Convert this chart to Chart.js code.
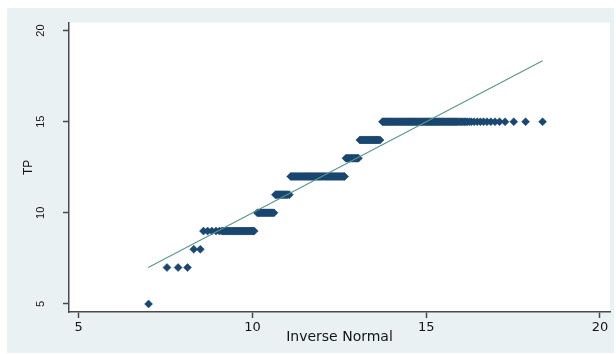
<!DOCTYPE html>
<html>
<head>
<meta charset="utf-8">
<script src="https://cdn.jsdelivr.net/npm/chart.js@4.4.0/dist/chart.umd.min.js"></script>
<style>
  html, body { margin: 0; padding: 0; background: #fff; }
</style>
</head>
<body>
<canvas id="qnorm-chart" width="616" height="354"></canvas>
<script>
// inverse normal quantiles (x), one list per TP value
const inv5 = [7.01];
const inv7 = [7.54, 7.86, 8.13];
const inv8 = [8.31, 8.50];
const inv9 = [8.59, 8.71, 8.83, 8.95, 9.05, 9.12, 9.15, 9.18, 9.21, 9.24, 9.27, 9.30, 9.33, 9.36,
  9.39, 9.42, 9.45, 9.48, 9.51, 9.54, 9.57, 9.60, 9.63, 9.66, 9.69, 9.72, 9.75, 9.78, 9.81, 9.84,
  9.87, 9.90, 9.93, 9.96, 9.99, 10.02, 10.05];
const inv10 = [10.14, 10.17, 10.20, 10.23, 10.26, 10.29, 10.32, 10.35, 10.38, 10.41, 10.44, 10.47,
  10.50, 10.53, 10.56, 10.59, 10.62];
const inv11 = [10.66, 10.69, 10.72, 10.75, 10.78, 10.81, 10.84, 10.87, 10.90, 10.93, 10.96, 10.99,
  11.02, 11.06];
const inv12 = [11.10, 11.13, 11.16, 11.19, 11.22, 11.25, 11.28, 11.31, 11.34, 11.37, 11.40, 11.43,
  11.46, 11.49, 11.52, 11.55, 11.58, 11.61, 11.64, 11.67, 11.70, 11.73, 11.76, 11.79, 11.82, 11.85,
  11.88, 11.91, 11.94, 11.97, 12.00, 12.03, 12.06, 12.09, 12.12, 12.15, 12.18, 12.21, 12.24, 12.27,
  12.30, 12.33, 12.36, 12.39, 12.42, 12.45, 12.48, 12.51, 12.54, 12.57, 12.60, 12.63, 12.65];
const inv13 = [12.69, 12.72, 12.75, 12.78, 12.81, 12.84, 12.87, 12.90, 12.93, 12.96, 12.99, 13.02, 13.05];
const inv14 = [13.09, 13.12, 13.15, 13.18, 13.21, 13.24, 13.27, 13.30, 13.33, 13.36, 13.39, 13.42,
  13.45, 13.48, 13.51, 13.54, 13.57, 13.60, 13.63, 13.67];
const inv15 = [13.74, 13.77, 13.80, 13.83, 13.86, 13.89, 13.92, 13.95, 13.98, 14.01, 14.04, 14.07,
  14.10, 14.13, 14.16, 14.19, 14.22, 14.25, 14.28, 14.31, 14.34, 14.37, 14.40, 14.43, 14.46, 14.49,
  14.52, 14.55, 14.58, 14.61, 14.64, 14.67, 14.70, 14.73, 14.76, 14.79, 14.82, 14.85, 14.88, 14.91,
  14.94, 14.97, 15.00, 15.03, 15.06, 15.09, 15.12, 15.15, 15.18, 15.21, 15.24, 15.27, 15.30, 15.33,
  15.36, 15.39, 15.42, 15.45, 15.48, 15.51, 15.54, 15.57, 15.60, 15.63, 15.66, 15.69, 15.72, 15.75,
  15.78, 15.81, 15.84, 15.87, 15.90, 15.94, 15.98, 16.02, 16.06, 16.10, 16.14, 16.18,
  16.24, 16.30, 16.38, 16.47, 16.56, 16.65, 16.75, 16.86, 16.98, 17.11, 17.27, 17.52, 17.86, 18.35];

const tpValues = [5, 7, 8, 9, 10, 11, 12, 13, 14, 15];
const invByTP = [inv5, inv7, inv8, inv9, inv10, inv11, inv12, inv13, inv14, inv15];

// reference line (y = x) ends
const refLineX = [7.0, 18.35];
const refLineY = [7.0, 18.35];

const xTicks = [5, 10, 15, 20];
const yTicks = [5, 10, 15, 20];

// build scatter points
let points = [];
tpValues.forEach(function (tp, i) {
  invByTP[i].forEach(function (x) {
    points.push({x: x, y: tp});
  });
});

const bgPlugin = {
  id: 'stataBg',
  beforeDraw(chart) {
    const ctx = chart.ctx;
    const a = chart.chartArea;
    ctx.save();
    ctx.fillStyle = '#ffffff';
    ctx.fillRect(0, 0, chart.width, chart.height);
    ctx.fillStyle = '#e9f1f3';
    ctx.fillRect(7, 8, 607, 345);
    ctx.fillStyle = '#ffffff';
    ctx.fillRect(a.left, a.top, a.right - a.left, a.bottom - a.top);
    ctx.restore();
  }
};

const axisColor = '#4a4a4a';
const textColor = '#151515';

const ctx = document.getElementById('qnorm-chart').getContext('2d');
const qnormChart = new Chart(ctx, {
  type: 'scatter',
  data: {
    datasets: [
      {
        type: 'line',
        label: 'reference',
        data: refLineX.map((x, i) => ({x: x, y: refLineY[i]})),
        borderColor: '#5a9689',
        borderWidth: 1.1,
        pointRadius: 0,
        fill: false,
        order: 0
      },
      {
        label: 'TP',
        data: points,
        pointStyle: 'rectRot',
        pointRadius: 4,
        backgroundColor: '#1a476f',
        borderColor: '#1a476f',
        borderWidth: 0.5,
        order: 1
      }
    ]
  },
  options: {
    responsive: false,
    animation: false,
    layout: {padding: {top: 21, right: 6, left: 0, bottom: 0}},
    plugins: {
      legend: {display: false},
      tooltip: {enabled: false}
    },
    scales: {
      x: {
        type: 'linear',
        position: 'bottom',
        min: 4.72,
        max: 20.29,
        afterBuildTicks: (s) => { s.ticks = xTicks.map(v => ({value: v})); },
        afterFit: (s) => { s.height = 42; },
        grid: {display: true, drawOnChartArea: false, drawTicks: true, tickLength: 6, tickColor: axisColor, tickWidth: 1.5},
        border: {display: true, color: axisColor, width: 1.5},
        ticks: {font: {family: 'DejaVu Sans', size: 13}, color: textColor, padding: 2, maxRotation: 0},
        title: {display: true, text: 'Inverse Normal', color: textColor,
          font: {family: 'DejaVu Sans', size: 14}, padding: {top: 0, bottom: 8}}
      },
      y: {
        type: 'linear',
        position: 'left',
        min: 4.56,
        max: 20.44,
        afterBuildTicks: (s) => { s.ticks = yTicks.map(v => ({value: v})); },
        afterFit: (s) => { s.width = 69; },
        grid: {display: true, drawOnChartArea: false, drawTicks: true, tickLength: 6, tickColor: axisColor, tickWidth: 1.5},
        border: {display: true, color: axisColor, width: 1.5},
        ticks: {font: {family: 'Liberation Sans', size: 11}, color: textColor,
          minRotation: 90, maxRotation: 90, crossAlign: 'center', padding: 16},
        title: {display: true, text: 'TP', color: textColor,
          font: {family: 'Liberation Sans', size: 12}, padding: {top: 21, bottom: 0}}
      }
    }
  },
  plugins: [bgPlugin]
});
</script>
</body>
</html>
